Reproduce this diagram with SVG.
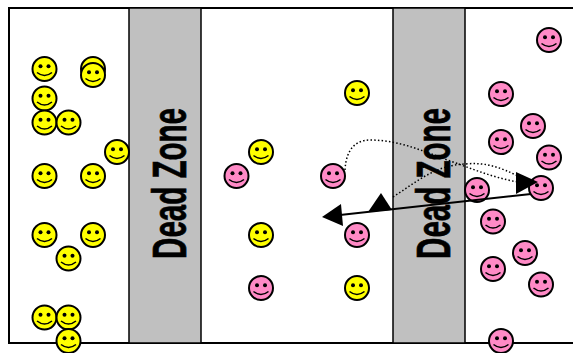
<svg xmlns="http://www.w3.org/2000/svg" width="573" height="353" viewBox="0 0 573 353">
<style>
.zone{fill:#c0c0c0;stroke:#000;stroke-width:1.5}
.frame{fill:#fff;stroke:#000;stroke-width:2}
.lbl{font-family:"Liberation Sans",Arial,sans-serif;font-weight:700;font-size:48px;fill:#000;stroke:#000;stroke-width:.7;text-anchor:middle}
.face{stroke:#000;stroke-width:2}
.y{fill:#ffff00}.p{fill:#ff8ac6}
.eye{fill:#000}
.smile{fill:none;stroke:#000;stroke-width:1.600}
.dot{fill:none;stroke:#000;stroke-width:1.500;stroke-dasharray:1.500 2.200}
.solid{fill:none;stroke:#000;stroke-width:2}
.head{fill:#000}
</style>
<defs>
<g id="features"><circle class="eye" cx="-4" cy="-2.700" r="2"/><circle class="eye" cx="4" cy="-2.700" r="2"/><path class="smile" d="M-7.500 3.500Q0 9.500 7.500 3.500"/></g>
</defs>
<rect class="frame" x="9" y="8" width="570" height="335"/>
<rect class="zone" x="129" y="8" width="72" height="335"/>
<rect class="zone" x="393" y="8" width="72" height="335"/>
<text class="lbl" transform="translate(186 183.500) rotate(-90) scale(.615 1)">Dead Zone</text>
<text class="lbl" transform="translate(450 183.500) rotate(-90) scale(.615 1)">Dead Zone</text>
<g id="y1"><circle class="face y" cx="93" cy="69" r="12"/><use href="#features" x="93" y="69"/></g>
<g id="y2"><circle class="face y" cx="93" cy="75" r="12"/><use href="#features" x="93" y="75"/></g>
<g id="y3"><circle class="face y" cx="44.500" cy="69" r="12"/><use href="#features" x="44.500" y="69"/></g>
<g id="y4"><circle class="face y" cx="44.500" cy="98.500" r="12"/><use href="#features" x="44.500" y="98.500"/></g>
<g id="y5"><circle class="face y" cx="44.500" cy="122.500" r="12"/><use href="#features" x="44.500" y="122.500"/></g>
<g id="y6"><circle class="face y" cx="68.500" cy="122.500" r="12"/><use href="#features" x="68.500" y="122.500"/></g>
<g id="y7"><circle class="face y" cx="117" cy="152" r="12"/><use href="#features" x="117" y="152"/></g>
<g id="y8"><circle class="face y" cx="44.500" cy="176" r="12"/><use href="#features" x="44.500" y="176"/></g>
<g id="y9"><circle class="face y" cx="93" cy="176" r="12"/><use href="#features" x="93" y="176"/></g>
<g id="y10"><circle class="face y" cx="44.500" cy="235" r="12"/><use href="#features" x="44.500" y="235"/></g>
<g id="y11"><circle class="face y" cx="93" cy="235" r="12"/><use href="#features" x="93" y="235"/></g>
<g id="y12"><circle class="face y" cx="68.500" cy="258.500" r="12"/><use href="#features" x="68.500" y="258.500"/></g>
<g id="y13"><circle class="face y" cx="44.500" cy="317.500" r="12"/><use href="#features" x="44.500" y="317.500"/></g>
<g id="y14"><circle class="face y" cx="68.500" cy="317.500" r="12"/><use href="#features" x="68.500" y="317.500"/></g>
<g id="y15"><circle class="face y" cx="68.500" cy="341" r="12"/><use href="#features" x="68.500" y="341"/></g>
<g id="y16"><circle class="face y" cx="357" cy="93" r="12"/><use href="#features" x="357" y="93"/></g>
<g id="y17"><circle class="face y" cx="261" cy="152" r="12"/><use href="#features" x="261" y="152"/></g>
<g id="y18"><circle class="face y" cx="261" cy="235" r="12"/><use href="#features" x="261" y="235"/></g>
<g id="y19"><circle class="face y" cx="357" cy="288" r="12"/><use href="#features" x="357" y="288"/></g>
<g id="p1"><circle class="face p" cx="236.500" cy="176" r="12"/><use href="#features" x="236.500" y="176"/></g>
<g id="p2"><circle class="face p" cx="333" cy="176" r="12"/><use href="#features" x="333" y="176"/></g>
<g id="p3"><circle class="face p" cx="357" cy="235" r="12"/><use href="#features" x="357" y="235"/></g>
<g id="p4"><circle class="face p" cx="261" cy="288" r="12"/><use href="#features" x="261" y="288"/></g>
<g id="p5"><circle class="face p" cx="549" cy="40" r="12"/><use href="#features" x="549" y="40"/></g>
<g id="p6"><circle class="face p" cx="501" cy="94" r="12"/><use href="#features" x="501" y="94"/></g>
<g id="p7"><circle class="face p" cx="533" cy="126" r="12"/><use href="#features" x="533" y="126"/></g>
<g id="p8"><circle class="face p" cx="501" cy="142" r="12"/><use href="#features" x="501" y="142"/></g>
<g id="p9"><circle class="face p" cx="549" cy="157.500" r="12"/><use href="#features" x="549" y="157.500"/></g>
<g id="p10"><circle class="face p" cx="477" cy="190" r="12"/><use href="#features" x="477" y="190"/></g>
<g id="p11"><circle class="face p" cx="541" cy="188" r="12"/><use href="#features" x="541" y="188"/></g>
<g id="p12"><circle class="face p" cx="493" cy="221.500" r="12"/><use href="#features" x="493" y="221.500"/></g>
<g id="p13"><circle class="face p" cx="525" cy="253" r="12"/><use href="#features" x="525" y="253"/></g>
<g id="p14"><circle class="face p" cx="493" cy="269" r="12"/><use href="#features" x="493" y="269"/></g>
<g id="p15"><circle class="face p" cx="541" cy="284.500" r="12"/><use href="#features" x="541" y="284.500"/></g>
<g id="p16"><circle class="face p" cx="501" cy="341" r="12"/><use href="#features" x="501" y="341"/></g>
<g id="connectors">
<path class="solid" d="M531 194L340 215"/>
<polygon class="head" points="322,217 341,204 343,226"/>
<path class="dot" d="M345 170C346 150 355 140 370 140C400 140 425 152 453 162C475 170 495 178 518 182"/>
<polygon class="head" points="538,182 516,172 516,194"/>
<path class="dot" d="M393 197C415 183 435 165 465 164C485 162 500 167 520 177"/>
<polygon class="head" points="381,193 368,212 392,210"/>
</g>
</svg>
